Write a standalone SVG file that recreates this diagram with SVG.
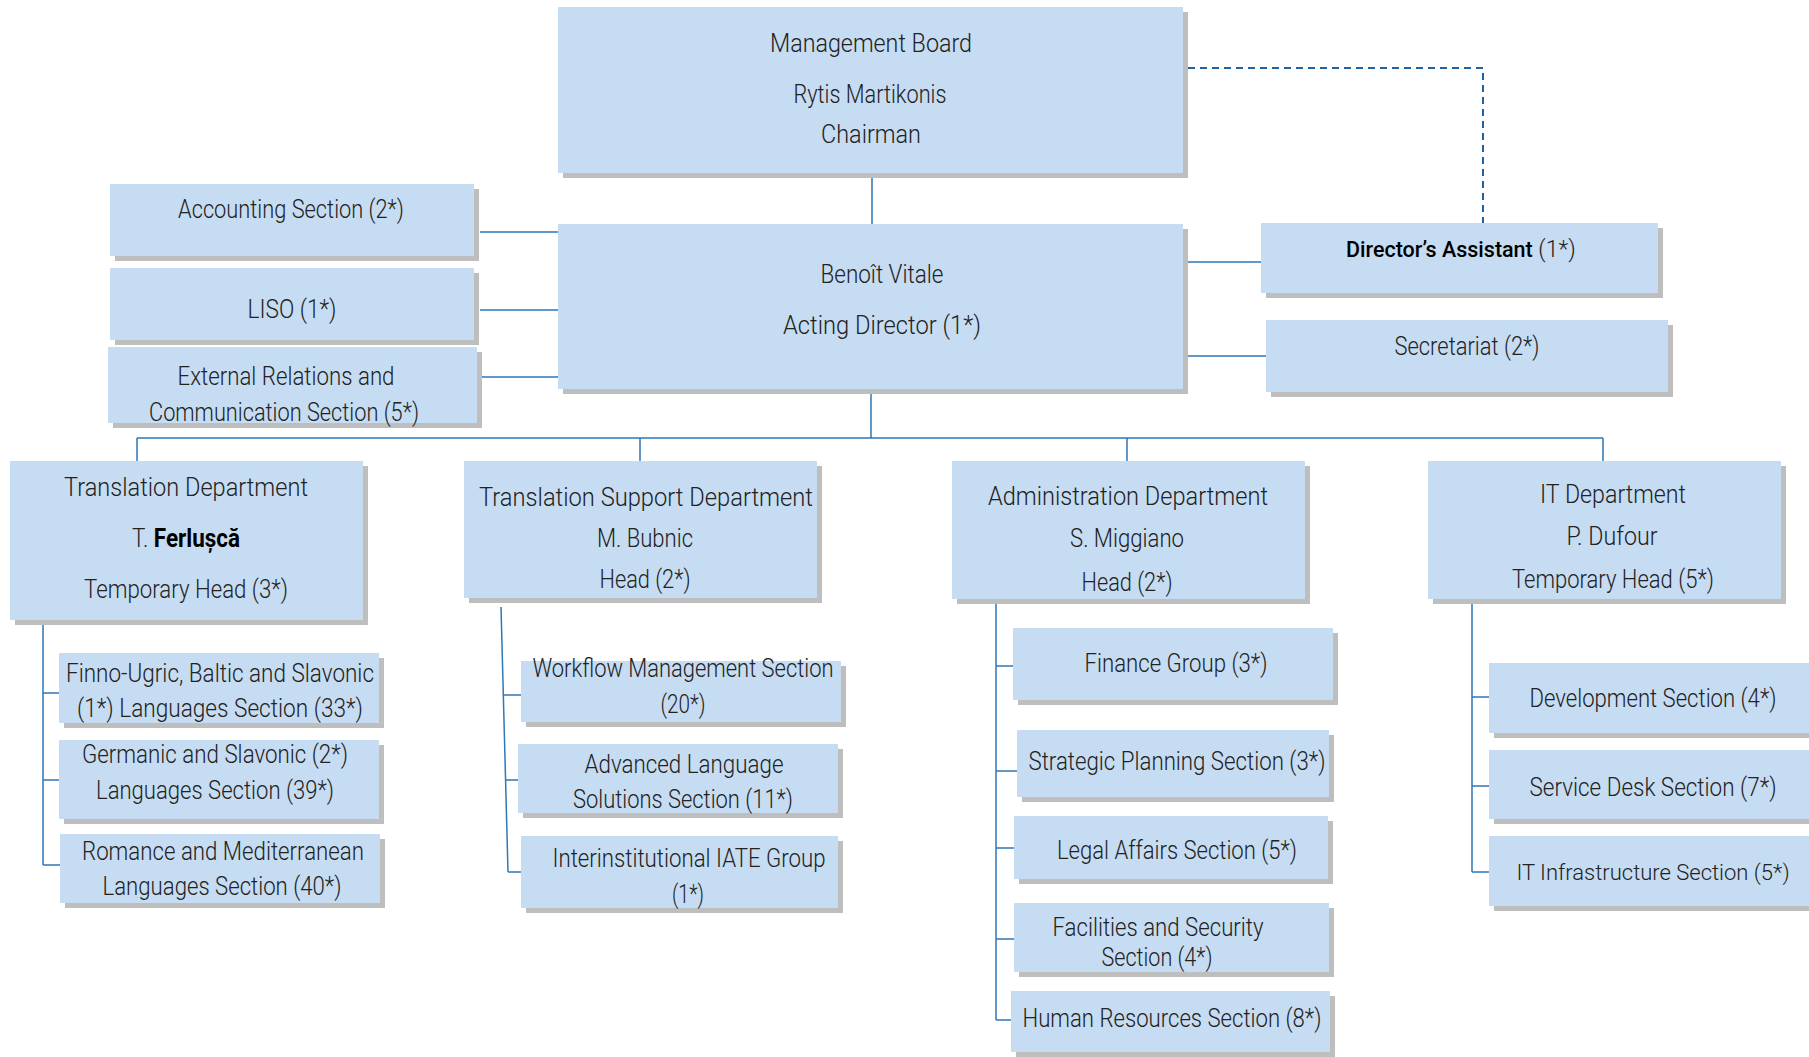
<svg xmlns="http://www.w3.org/2000/svg" width="1809" height="1057" viewBox="0 0 1809 1057">
<style>
.box{fill:#C6DCF2}
.sh{fill:#BEBEBE}
.ln{stroke:#2F77B5;stroke-width:1.5;fill:none}
.dash{stroke:#1B63A6;stroke-width:2;fill:none;stroke-dasharray:7 5}
text{font-family:Roboto,"Liberation Sans",sans-serif;font-size:25px;font-weight:300;fill:#222;text-anchor:middle}
.bd{font-weight:500;fill:#000;font-size:21.5px}
.bb{font-weight:700;fill:#000}
.st{text-anchor:start}
.sm{font-size:22px}
.s23{font-size:23px}
</style>
<rect width="1809" height="1057" fill="#fff"/>
<g id="connectors">
<path class="ln" d="M872 173V224"/>
<path class="dash" d="M1188 68H1483V223"/>
<path class="ln" d="M1188 262H1261M1188 356H1266"/>
<path class="ln" d="M480 232H558M480 310H558M482 377H558"/>
<path class="ln" d="M871 389V438M137 438H1603M137 438V461M640 438V461M1127 438V461M1603 438V461"/>
<path class="ln" d="M43 620V865M43 693H59M43 780H59M43 865H60"/>
<path class="ln" d="M501 607L508 872M503 695H521M505 780H518M508 872H521"/>
<path class="ln" d="M996 599V1020M996 666H1013M996 771H1017M996 848H1014M996 939H1014M996 1020H1011"/>
<path class="ln" d="M1472 599V872M1472 697H1489M1472 786H1489M1472 872H1489"/>
</g>
<g id="management-board">
<rect class="sh" x="563" y="12" width="625" height="166"/><rect class="box" x="558" y="7" width="625" height="166"/>
<text x="871" y="52" textLength="202" lengthAdjust="spacingAndGlyphs">Management Board</text>
<text x="870" y="103" textLength="153" lengthAdjust="spacingAndGlyphs">Rytis Martikonis</text>
<text x="871" y="143" textLength="100" lengthAdjust="spacingAndGlyphs">Chairman</text>
</g>
<g id="director">
<rect class="sh" x="563" y="229" width="625" height="165"/><rect class="box" x="558" y="224" width="625" height="165"/>
<text x="882" y="283" textLength="123" lengthAdjust="spacingAndGlyphs">Benoît Vitale</text>
<text x="882" y="334" textLength="198" lengthAdjust="spacingAndGlyphs">Acting Director (1*)</text>
</g>
<g id="directors-assistant">
<rect class="sh" x="1266" y="228" width="397" height="70"/><rect class="box" x="1261" y="223" width="397" height="70"/>
<text class="st" x="1346" y="257"><tspan class="bd">Director’s Assistant</tspan><tspan class="s23"> (1*)</tspan></text>
</g>
<g id="secretariat">
<rect class="sh" x="1271" y="325" width="402" height="72"/><rect class="box" x="1266" y="320" width="402" height="72"/>
<text x="1467" y="355" textLength="145" lengthAdjust="spacingAndGlyphs">Secretariat (2*)</text>
</g>
<g id="accounting">
<rect class="sh" x="115" y="189" width="364" height="72"/><rect class="box" x="110" y="184" width="364" height="72"/>
<text x="291" y="218" textLength="226" lengthAdjust="spacingAndGlyphs">Accounting Section (2*)</text>
</g>
<g id="liso">
<rect class="sh" x="115" y="273" width="364" height="72"/><rect class="box" x="110" y="268" width="364" height="72"/>
<text x="292" y="318" textLength="89" lengthAdjust="spacingAndGlyphs">LISO (1*)</text>
</g>
<g id="external-relations">
<rect class="sh" x="113" y="352" width="369" height="76"/><rect class="box" x="108" y="347" width="369" height="76"/>
<text x="286" y="385" textLength="217" lengthAdjust="spacingAndGlyphs">External Relations and</text>
<text x="284" y="421" textLength="270" lengthAdjust="spacingAndGlyphs">Communication Section (5*)</text>
</g>
<g id="translation-dept">
<rect class="sh" x="15" y="466" width="353" height="159"/><rect class="box" x="10" y="461" width="353" height="159"/>
<text x="186" y="496" textLength="244" lengthAdjust="spacingAndGlyphs">Translation Department</text>
<text x="186" y="547" textLength="108" lengthAdjust="spacingAndGlyphs">T. <tspan class="bb">Ferlușcă</tspan></text>
<text x="186" y="598" textLength="204" lengthAdjust="spacingAndGlyphs">Temporary Head (3*)</text>
</g>
<g id="finno-ugric">
<rect class="sh" x="64" y="658" width="320" height="70"/><rect class="box" x="59" y="653" width="320" height="70"/>
<text x="220" y="682" textLength="308" lengthAdjust="spacingAndGlyphs">Finno-Ugric, Baltic and Slavonic</text>
<text x="220" y="717" textLength="286" lengthAdjust="spacingAndGlyphs">(1*)  Languages Section (33*)</text>
</g>
<g id="germanic">
<rect class="sh" x="64" y="745" width="320" height="79"/><rect class="box" x="59" y="740" width="320" height="79"/>
<text x="215" y="763" textLength="266" lengthAdjust="spacingAndGlyphs">Germanic and Slavonic (2*)</text>
<text x="215" y="799" textLength="238" lengthAdjust="spacingAndGlyphs">Languages Section (39*)</text>
</g>
<g id="romance">
<rect class="sh" x="65" y="839" width="320" height="69"/><rect class="box" x="60" y="834" width="320" height="69"/>
<text x="223" y="860" textLength="282" lengthAdjust="spacingAndGlyphs">Romance and Mediterranean</text>
<text x="222" y="895" textLength="239" lengthAdjust="spacingAndGlyphs">Languages Section (40*)</text>
</g>
<g id="translation-support-dept">
<rect class="sh" x="469" y="466" width="353" height="137"/><rect class="box" x="464" y="461" width="353" height="137"/>
<text x="646" y="506" textLength="334" lengthAdjust="spacingAndGlyphs">Translation Support Department</text>
<text x="645" y="547" textLength="96" lengthAdjust="spacingAndGlyphs">M. Bubnic</text>
<text x="645" y="588" textLength="91" lengthAdjust="spacingAndGlyphs">Head (2*)</text>
</g>
<g id="workflow">
<rect class="sh" x="526" y="666" width="320" height="61"/><rect class="box" x="521" y="661" width="320" height="61"/>
<text x="683" y="677" textLength="301" lengthAdjust="spacingAndGlyphs">Workflow Management Section</text>
<text x="683" y="713" textLength="45" lengthAdjust="spacingAndGlyphs">(20*)</text>
</g>
<g id="advanced-language">
<rect class="sh" x="523" y="749" width="320" height="69"/><rect class="box" x="518" y="744" width="320" height="69"/>
<text x="684" y="773" textLength="199" lengthAdjust="spacingAndGlyphs">Advanced Language</text>
<text x="683" y="808" textLength="220" lengthAdjust="spacingAndGlyphs">Solutions Section (11*)</text>
</g>
<g id="iate">
<rect class="sh" x="526" y="841" width="317" height="72"/><rect class="box" x="521" y="836" width="317" height="72"/>
<text x="689" y="867" textLength="273" lengthAdjust="spacingAndGlyphs">Interinstitutional IATE Group</text>
<text x="688" y="903" textLength="32" lengthAdjust="spacingAndGlyphs">(1*)</text>
</g>
<g id="administration-dept">
<rect class="sh" x="957" y="466" width="353" height="138"/><rect class="box" x="952" y="461" width="353" height="138"/>
<text x="1128" y="505" textLength="280" lengthAdjust="spacingAndGlyphs">Administration Department</text>
<text x="1127" y="547" textLength="114" lengthAdjust="spacingAndGlyphs">S. Miggiano</text>
<text x="1127" y="591" textLength="91" lengthAdjust="spacingAndGlyphs">Head (2*)</text>
</g>
<g id="finance">
<rect class="sh" x="1018" y="633" width="320" height="72"/><rect class="box" x="1013" y="628" width="320" height="72"/>
<text x="1176" y="672" textLength="183" lengthAdjust="spacingAndGlyphs">Finance Group (3*)</text>
</g>
<g id="strategic-planning">
<rect class="sh" x="1022" y="735" width="312" height="67"/><rect class="box" x="1017" y="730" width="312" height="67"/>
<text x="1177" y="770" textLength="297" lengthAdjust="spacingAndGlyphs">Strategic Planning Section (3*)</text>
</g>
<g id="legal-affairs">
<rect class="sh" x="1019" y="821" width="314" height="63"/><rect class="box" x="1014" y="816" width="314" height="63"/>
<text x="1177" y="859" textLength="240" lengthAdjust="spacingAndGlyphs">Legal Affairs Section (5*)</text>
</g>
<g id="facilities">
<rect class="sh" x="1019" y="908" width="315" height="69"/><rect class="box" x="1014" y="903" width="315" height="69"/>
<text x="1158" y="936" textLength="211" lengthAdjust="spacingAndGlyphs">Facilities and Security</text>
<text x="1157" y="966" textLength="111" lengthAdjust="spacingAndGlyphs">Section (4*)</text>
</g>
<g id="human-resources">
<rect class="sh" x="1016" y="996" width="319" height="61"/><rect class="box" x="1011" y="991" width="319" height="61"/>
<text x="1172" y="1027" textLength="299" lengthAdjust="spacingAndGlyphs">Human Resources Section (8*)</text>
</g>
<g id="it-dept">
<rect class="sh" x="1433" y="466" width="353" height="138"/><rect class="box" x="1428" y="461" width="353" height="138"/>
<text x="1613" y="503" textLength="146" lengthAdjust="spacingAndGlyphs">IT Department</text>
<text x="1612" y="545" textLength="91" lengthAdjust="spacingAndGlyphs">P. Dufour</text>
<text x="1613" y="588" textLength="202" lengthAdjust="spacingAndGlyphs">Temporary Head (5*)</text>
</g>
<g id="development">
<rect class="sh" x="1494" y="668" width="320" height="70"/><rect class="box" x="1489" y="663" width="320" height="70"/>
<text x="1653" y="707" textLength="247" lengthAdjust="spacingAndGlyphs">Development Section (4*)</text>
</g>
<g id="service-desk">
<rect class="sh" x="1494" y="755" width="320" height="69"/><rect class="box" x="1489" y="750" width="320" height="69"/>
<text x="1653" y="796" textLength="247" lengthAdjust="spacingAndGlyphs">Service Desk Section (7*)</text>
</g>
<g id="it-infrastructure">
<rect class="sh" x="1494" y="841" width="320" height="70"/><rect class="box" x="1489" y="836" width="320" height="70"/>
<text class="sm" x="1653" y="880">IT Infrastructure Section (5*)</text>
</g>
</svg>
